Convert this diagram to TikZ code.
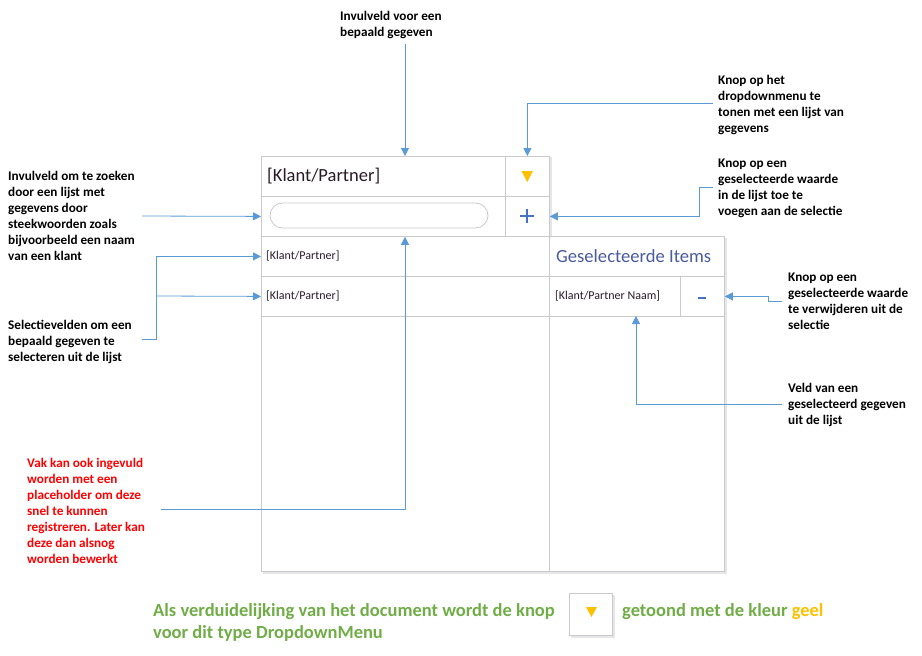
\documentclass[tikz,border=0pt]{standalone}
\usepackage{fontspec}
\setmainfont{Carlito}
\usetikzlibrary{arrows.meta}
\definecolor{lnk}{HTML}{5B9BD5}
\definecolor{brd}{HTML}{CACACA}
\definecolor{shd}{HTML}{E4E6EA}
\definecolor{btn}{HTML}{4472C4}
\definecolor{ylw}{HTML}{FFC000}
\definecolor{grn}{HTML}{70AD47}
\definecolor{hdr}{HTML}{4A5A9C}
\definecolor{txt}{HTML}{2A1A24}
\begin{document}
\begin{tikzpicture}[x=1pt,y=-1pt,
  cell/.style={draw=brd, line width=0.8pt, fill=white, inner sep=0pt, anchor=north west},
  note/.style={anchor=north west, align=left, inner sep=0pt, font=\fontsize{13.2}{16}\selectfont\bfseries},
  link/.style={draw=lnk, line width=0.8pt, -{Triangle[length=8pt,width=8pt]}},
  shadow line/.style={draw=shd, line width=2pt},
  green/.style={anchor=base west, inner sep=0pt, text=grn, font=\fontsize{18.5}{22}\selectfont\bfseries}]
\useasboundingbox (0,0) rectangle (922,656);

% soft shadows
\draw[shadow line] (263,572.5) -- (725.5,572.5) -- (725.5,238);
\draw[shadow line] (551,157) -- (551,236);
\draw[shadow line] (571,636.5) -- (613.5,636.5) -- (613.5,595);

% lower area
\node[cell, minimum width=288pt, minimum height=255pt] (lowl) at (261,316) {};
\node[cell, minimum width=175pt, minimum height=255pt] (lowr) at (549,316) {};
% rows
\node[cell, minimum width=244pt, minimum height=40pt] (title) at (261,156) {};
\node[cell, minimum width=44pt, minimum height=40pt] (drop) at (505,156) {};
\node[cell, minimum width=244pt, minimum height=40pt] (search) at (261,196) {};
\node[cell, minimum width=44pt, minimum height=40pt] (plus) at (505,196) {};
\node[cell, minimum width=288pt, minimum height=40pt] (row1) at (261,236) {};
\node[cell, minimum width=288pt, minimum height=40pt] (row2) at (261,276) {};
\node[cell, minimum width=175pt, minimum height=40pt] (head) at (549,236) {};
\node[cell, minimum width=131pt, minimum height=40pt] (sel) at (549,276) {};
\node[cell, minimum width=44pt, minimum height=40pt] (minus) at (680,276) {};

% contents
\node[anchor=west, inner sep=0pt, text=txt, font=\fontsize{18.5}{22}\selectfont] (titletxt) at (267,176) {[Klant/Partner]};
\draw[brd, line width=0.8pt, rounded corners=12.5pt] (270,203) rectangle (488,228);
\node[anchor=west, inner sep=0pt, text=txt, font=\fontsize{12}{14}\selectfont] (r1txt) at (266,256) {[Klant/Partner]};
\node[anchor=west, inner sep=0pt, text=txt, font=\fontsize{12}{14}\selectfont] (r2txt) at (266,296) {[Klant/Partner]};
\node[anchor=west, inner sep=0pt, text=hdr, font=\fontsize{18.6}{22}\selectfont] (headtxt) at (556,256) {Geselecteerde Items};
\node[anchor=west, inner sep=0pt, text=txt, font=\fontsize{12}{14}\selectfont] (seltxt) at (555,296) {[Klant/Partner Naam]};
\fill[ylw] (521.5,171) -- (533,171) -- (527.25,182) -- cycle;
\draw[btn, line width=2pt] (520,216) -- (534,216) (527,209) -- (527,223);
\draw[btn, line width=2pt] (698,298) -- (706,298);

% notes
\node[note] (n1) at (340,11.5) {Invulveld voor een\\bepaald gegeven};
\node[note] (n2) at (718,75.5) {Knop op het\\dropdownmenu te\\tonen met een lijst van\\gegevens};
\node[note] (n3) at (718,158.5) {Knop op een\\geselecteerde waarde\\in de lijst toe te\\voegen aan de selectie};
\node[note] (n4) at (8,171.5) {Invulveld om te zoeken\\door een lijst met\\gegevens door\\steekwoorden zoals\\bijvoorbeeld een naam\\van een klant};
\node[note] (n5) at (8,320.5) {Selectievelden om een\\bepaald gegeven te\\selecteren uit de lijst};
\node[note] (n6) at (788,272.5) {Knop op een\\geselecteerde waarde\\te verwijderen uit de\\selectie};
\node[note] (n7) at (788,383.5) {Veld van een\\geselecteerd gegeven\\uit de lijst};
\node[note, text=red] (n8) at (27,458) {Vak kan ook ingevuld\\worden met een\\placeholder om deze\\snel te kunnen\\registreren. Later kan\\deze dan alsnog\\worden bewerkt};

% connectors
\coordinate (c1) at (405,44);
\draw[link] (c1) -- (c1 |- title.north);
\coordinate (c2) at (713,103);
\draw[link] (c2) -| (drop.north);
\coordinate (c3) at (713,187);
\draw[link] (c3) -- ++(-14,0) |- (plus.east);
\coordinate (c4) at (142,216);
\draw[link] (c4) -- (search.west);
\coordinate (c5) at (142,339);
\coordinate (b5) at (156,296);
\draw[link] (c5) -- ++(14,0) |- (row1.west);
\draw[link] (b5) -- (row2.west);
\coordinate (c6) at (782,301);
\draw[link] (c6) -- ++(-14,0) |- (minus.east);
\coordinate (c7) at (782,404);
\coordinate (t7) at (636,316);
\draw[link] (c7) -| (t7);
\coordinate (c8) at (161,509);
\draw[link] (c8) -| (c1 |- search.south);

% bottom legend
\node[green] (g1) at (153,616) {Als verduidelijking van het document wordt de knop};
\node[cell, minimum width=43pt, minimum height=42pt] (legbtn) at (569,593) {};
\fill[ylw] (586,607) -- (597,607) -- (591.5,617) -- cycle;
\node[green] (g2) at (622,616) {getoond met de kleur \textcolor{ylw}{geel}};
\node[green] (g3) at (153,638) {voor dit type DropdownMenu};
\end{tikzpicture}
\end{document}
